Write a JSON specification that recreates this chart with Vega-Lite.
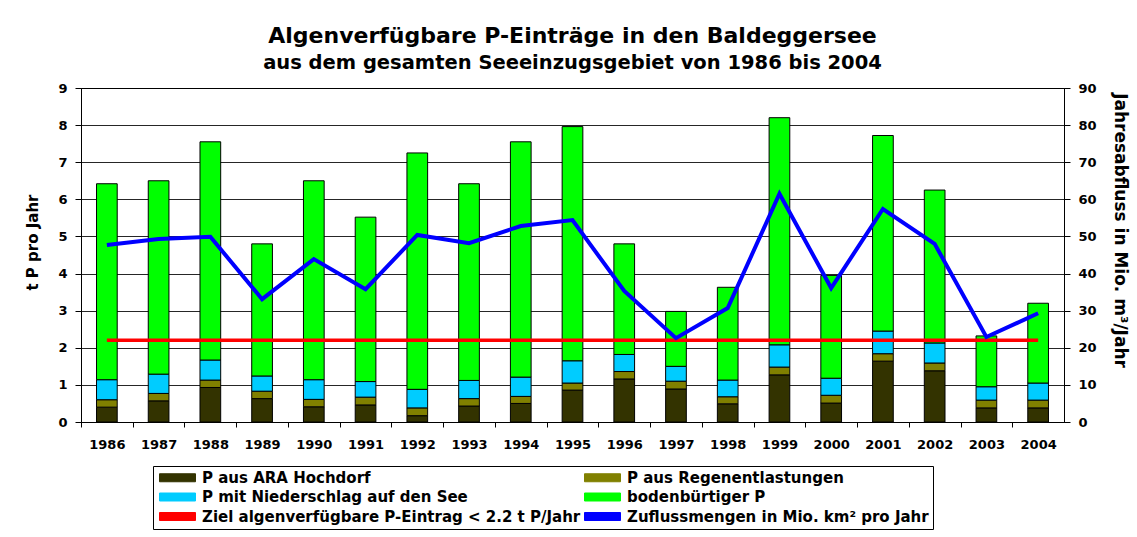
{
  "$schema": "https://vega.github.io/schema/vega-lite/v6.json",
  "width": 983,
  "height": 334,
  "autosize": {"type": "none"},
  "padding": {"left": 81, "top": 88, "right": 73, "bottom": 115},
  "background": "white",
  "config": {
    "font": "DejaVu Sans",
    "view": {"stroke": "black", "strokeWidth": 1},
    "axis": {
      "labelFont": "DejaVu Sans", "labelFontWeight": "bold", "labelFontSize": 13, "labelColor": "black",
      "titleFont": "DejaVu Sans", "titleFontWeight": "bold", "titleColor": "black",
      "domainColor": "black", "tickColor": "black"
    }
  },
  "title": {
    "text": "Algenverfügbare P-Einträge in den Baldeggersee",
    "subtitle": "aus dem gesamten Seeeinzugsgebiet von 1986 bis 2004",
    "font": "DejaVu Sans", "fontSize": 22, "fontWeight": "bold", "color": "black",
    "subtitleFont": "DejaVu Sans", "subtitleFontSize": 19.5, "subtitleFontWeight": "bold", "subtitleColor": "black",
    "subtitlePadding": 6, "anchor": "middle", "frame": "group", "offset": 9
  },
  "data": {"values": [
    {"Jahr": "1986", "P aus ARA Hochdorf": 0.40, "P aus Regenentlastungen": 0.20, "P mit Niederschlag auf den See": 0.54, "bodenbürtiger P": 5.28, "abfluss": 47.7, "ziel": 2.2},
    {"Jahr": "1987", "P aus ARA Hochdorf": 0.57, "P aus Regenentlastungen": 0.20, "P mit Niederschlag auf den See": 0.52, "bodenbürtiger P": 5.21, "abfluss": 49.3, "ziel": 2.2},
    {"Jahr": "1988", "P aus ARA Hochdorf": 0.93, "P aus Regenentlastungen": 0.20, "P mit Niederschlag auf den See": 0.54, "bodenbürtiger P": 5.88, "abfluss": 49.9, "ziel": 2.2},
    {"Jahr": "1989", "P aus ARA Hochdorf": 0.63, "P aus Regenentlastungen": 0.20, "P mit Niederschlag auf den See": 0.41, "bodenbürtiger P": 3.56, "abfluss": 33.1, "ziel": 2.2},
    {"Jahr": "1990", "P aus ARA Hochdorf": 0.41, "P aus Regenentlastungen": 0.20, "P mit Niederschlag auf den See": 0.53, "bodenbürtiger P": 5.36, "abfluss": 43.9, "ziel": 2.2},
    {"Jahr": "1991", "P aus ARA Hochdorf": 0.46, "P aus Regenentlastungen": 0.21, "P mit Niederschlag auf den See": 0.42, "bodenbürtiger P": 4.43, "abfluss": 35.8, "ziel": 2.2},
    {"Jahr": "1992", "P aus ARA Hochdorf": 0.17, "P aus Regenentlastungen": 0.21, "P mit Niederschlag auf den See": 0.50, "bodenbürtiger P": 6.37, "abfluss": 50.4, "ziel": 2.2},
    {"Jahr": "1993", "P aus ARA Hochdorf": 0.43, "P aus Regenentlastungen": 0.20, "P mit Niederschlag auf den See": 0.49, "bodenbürtiger P": 5.30, "abfluss": 48.2, "ziel": 2.2},
    {"Jahr": "1994", "P aus ARA Hochdorf": 0.50, "P aus Regenentlastungen": 0.19, "P mit Niederschlag auf den See": 0.52, "bodenbürtiger P": 6.34, "abfluss": 52.8, "ziel": 2.2},
    {"Jahr": "1995", "P aus ARA Hochdorf": 0.86, "P aus Regenentlastungen": 0.19, "P mit Niederschlag auf den See": 0.60, "bodenbürtiger P": 6.31, "abfluss": 54.4, "ziel": 2.2},
    {"Jahr": "1996", "P aus ARA Hochdorf": 1.16, "P aus Regenentlastungen": 0.20, "P mit Niederschlag auf den See": 0.46, "bodenbürtiger P": 2.98, "abfluss": 35.3, "ziel": 2.2},
    {"Jahr": "1997", "P aus ARA Hochdorf": 0.89, "P aus Regenentlastungen": 0.21, "P mit Niederschlag auf den See": 0.40, "bodenbürtiger P": 1.48, "abfluss": 22.6, "ziel": 2.2},
    {"Jahr": "1998", "P aus ARA Hochdorf": 0.49, "P aus Regenentlastungen": 0.19, "P mit Niederschlag auf den See": 0.45, "bodenbürtiger P": 2.50, "abfluss": 30.7, "ziel": 2.2},
    {"Jahr": "1999", "P aus ARA Hochdorf": 1.27, "P aus Regenentlastungen": 0.21, "P mit Niederschlag auf den See": 0.60, "bodenbürtiger P": 6.12, "abfluss": 61.5, "ziel": 2.2},
    {"Jahr": "2000", "P aus ARA Hochdorf": 0.51, "P aus Regenentlastungen": 0.21, "P mit Niederschlag auf den See": 0.46, "bodenbürtiger P": 2.77, "abfluss": 36.1, "ziel": 2.2},
    {"Jahr": "2001", "P aus ARA Hochdorf": 1.64, "P aus Regenentlastungen": 0.20, "P mit Niederschlag auf den See": 0.61, "bodenbürtiger P": 5.27, "abfluss": 57.4, "ziel": 2.2},
    {"Jahr": "2002", "P aus ARA Hochdorf": 1.38, "P aus Regenentlastungen": 0.21, "P mit Niederschlag auf den See": 0.54, "bodenbürtiger P": 4.12, "abfluss": 48.0, "ziel": 2.2},
    {"Jahr": "2003", "P aus ARA Hochdorf": 0.38, "P aus Regenentlastungen": 0.21, "P mit Niederschlag auf den See": 0.36, "bodenbürtiger P": 1.37, "abfluss": 22.9, "ziel": 2.2},
    {"Jahr": "2004", "P aus ARA Hochdorf": 0.38, "P aus Regenentlastungen": 0.21, "P mit Niederschlag auf den See": 0.46, "bodenbürtiger P": 2.15, "abfluss": 29.3, "ziel": 2.2}
  ]},
  "layer": [
    {
      "mark": {"type": "bar", "stroke": "black", "strokeWidth": 1},
      "transform": [{"fold": ["P aus ARA Hochdorf", "P aus Regenentlastungen", "P mit Niederschlag auf den See", "bodenbürtiger P"], "as": ["series", "value"]}],
      "encoding": {
        "x": {
          "field": "Jahr", "type": "nominal",
          "scale": {"paddingInner": 0.6, "paddingOuter": 0.3},
          "axis": {"title": null, "labelAngle": 0, "tickSize": 5, "tickOffset": -25.87, "labelOffset": 25.87, "labelPadding": 11, "grid": false, "domainColor": "black"}
        },
        "y": {
          "field": "value", "type": "quantitative", "stack": "zero",
          "scale": {"domain": [0, 9], "nice": false},
          "axis": {"orient": "left", "title": "t P pro Jahr", "titleFontSize": 15, "values": [0, 1, 2, 3, 4, 5, 6, 7, 8, 9], "labelOverlap": false, "grid": true, "gridColor": "black", "gridOpacity": 0.85, "tickSize": 6, "labelPadding": 8, "titlePadding": 17, "titleY": 154}
        },
        "color": {
          "field": "series", "type": "nominal",
          "scale": {
            "domain": ["P aus ARA Hochdorf", "P aus Regenentlastungen", "P mit Niederschlag auf den See", "bodenbürtiger P", "Ziel algenverfügbare P-Eintrag < 2.2 t P/Jahr", "Zuflussmengen in Mio. km² pro Jahr"],
            "range": ["#333300", "#808000", "#00CCFF", "#00FF00", "#FF0000", "#0000FF"]
          },
          "legend": {
            "orient": "none", "legendX": 72, "legendY": 378, "title": null, "columns": 2, "direction": "horizontal",
            "labelFont": "DejaVu Sans", "labelFontWeight": "bold", "labelFontSize": 15, "labelColor": "black", "labelLimit": 600,
            "symbolType": "M-3.6,-0.8H3.6V0.8H-3.6Z", "symbolStrokeColor": "black", "symbolStrokeWidth": 1,
            "symbolSize": 100, "symbolOffset": 13, "labelOffset": 17,
            "rowPadding": 3.5, "columnPadding": 1, "padding": 4, "strokeColor": "black", "fillColor": "white"
          }
        },
        "order": {"field": "series", "sort": "ascending"}
      }
    },
    {
      "mark": {"type": "line", "strokeWidth": 3.5},
      "encoding": {
        "x": {"field": "Jahr", "type": "nominal"},
        "y": {"field": "ziel", "type": "quantitative", "scale": {"domain": [0, 9], "nice": false}, "axis": null},
        "color": {"datum": "Ziel algenverfügbare P-Eintrag < 2.2 t P/Jahr"}
      }
    },
    {
      "mark": {"type": "line", "strokeWidth": 4},
      "encoding": {
        "x": {"field": "Jahr", "type": "nominal"},
        "y": {
          "field": "abfluss", "type": "quantitative",
          "scale": {"domain": [0, 90], "nice": false},
          "axis": {"orient": "right", "title": "Jahresabfluss in Mio. m³/Jahr", "titleAngle": 90, "titleFontSize": 17, "values": [0, 10, 20, 30, 40, 50, 60, 70, 80, 90], "labelOverlap": false, "grid": false, "tickSize": 6, "labelPadding": 8, "titlePadding": 14, "titleY": 142}
        },
        "color": {"datum": "Zuflussmengen in Mio. km² pro Jahr"}
      }
    }
  ],
  "resolve": {"scale": {"y": "independent"}}
}
